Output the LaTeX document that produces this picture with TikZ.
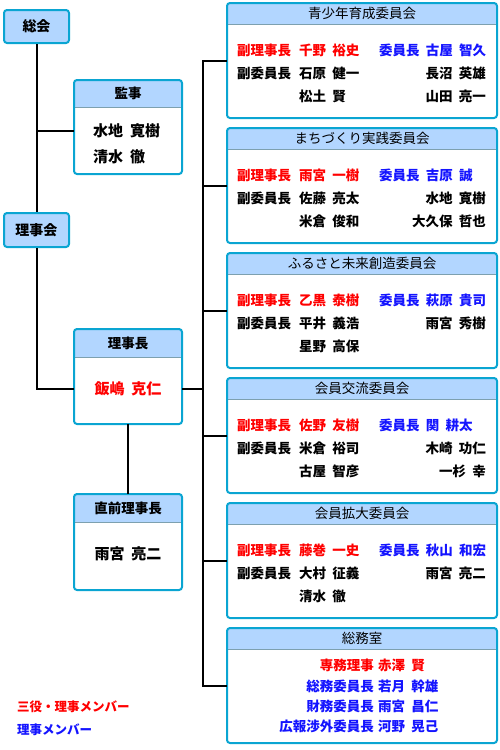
\documentclass[tikz,border=0pt]{standalone}
\usepackage{fontspec}
\setmainfont{Noto Sans CJK JP}[WordSpace=2]
\usetikzlibrary{calc}

\definecolor{waku}{RGB}{10,165,210}
\definecolor{midashi}{RGB}{178,214,255}
\definecolor{kugiri}{RGB}{125,160,175}
\definecolor{aka}{RGB}{255,0,0}
\definecolor{ao}{RGB}{20,20,255}

% 見出し付きの枠: 名前, 左, 上, 幅, 高さ, 見出しの高さ, 見出し
\newcommand{\midashibox}[7]{%
  \node[boxbase, minimum width=#4pt, minimum height=#5pt] (#1) at ({#2+#4/2},{#3+#5/2}) {};
  \fill[midashi, rounded corners=2pt] (#1.north west) rectangle ($(#1.north east)+(0,#6)$);
  \draw[kugiri] ($(#1.north west)+(1,#6)$) -- ($(#1.north east)+(-1,#6)$);
  \draw[boxline] (#1.north west) rectangle (#1.south east);
  \node[midashitext] (#1-t) at ($(#1.north)+(0,#6/2)$) {#7};
}

% 委員会: 番号, 上, 見出し, 副理事長, 副委員長, 副委員長(2), 委員長, 委員, 委員
\newcommand{\iinkai}[9]{%
  \midashibox{p#1}{227}{#2}{270}{115}{21}{#3}
  \node[meibo, aka, anchor=west] (p#1-l1) at ($(p#1.north west)+(10,47)$) {副理事長};
  \node[meibo, aka, anchor=west] (p#1-n1) at ($(p#1.north west)+(72,47)$) {#4};
  \node[meibo, anchor=west] (p#1-l2) at ($(p#1.north west)+(10,70)$) {副委員長};
  \node[meibo, anchor=west] (p#1-n2) at ($(p#1.north west)+(72,70)$) {#5};
  \node[meibo, anchor=west] (p#1-n3) at ($(p#1.north west)+(72,93)$) {#6};
  \node[meibo, ao, anchor=west] (p#1-r1) at ($(p#1.north west)+(152,47)$) {委員長 #7};
  \node[meibo, anchor=east] (p#1-r2) at ($(p#1.north west)+(259,70)$) {#8};
  \node[meibo, anchor=east] (p#1-r3) at ($(p#1.north west)+(259,93)$) {#9};
}

\begin{document}
\begin{tikzpicture}[
        x=1pt, y=-1pt, % 1ピクセル = 1pt
        link/.style={line width=2pt}, % 接続線
        boxline/.style={draw=waku, line width=2pt, rounded corners=3pt}, % 枠線
        boxbase/.style={fill=white, inner sep=0pt, outer sep=0pt}, % 枠の下地
        kaibox/.style={draw=waku, line width=2pt, fill=midashi, rounded corners=3pt,
            minimum width=65pt, minimum height=33pt, inner sep=0pt,
            font=\fontsize{14}{16}\selectfont\bfseries}, % 総会・理事会
        midashitext/.style={inner sep=0pt, font=\fontsize{13.5}{16}\selectfont}, % 見出し文字
        meibo/.style={inner sep=0pt, font=\fontsize{13.5}{16}\selectfont\bfseries}, % 名簿
        meibo14/.style={inner sep=0pt, font=\fontsize{15}{17}\selectfont\bfseries}, % 左側の名簿
        hanrei/.style={inner sep=0pt, font=\fontsize{12.5}{15}\selectfont\bfseries} % 凡例
    ]
        \useasboundingbox (0,0) rectangle (500,750);

        % --- 左側 ---
        \node[kaibox] (soukai) at (36.5,26.5) {総会};
        \node[kaibox, minimum height=34pt] (rijikai) at (36.5,230) {理事会};

        \midashibox{kanji}{74}{80}{108}{94}{27}{\bfseries 監事}
        \node[meibo14, anchor=west] (kanji-n1) at (93,131) {水地 寛樹};
        \node[meibo14, anchor=west] (kanji-n2) at (93,157) {清水 徹};

        \midashibox{rijicho}{74}{329}{108}{95}{28}{\bfseries 理事長}
        \node[meibo14, aka] (rijicho-n) at (128,389) {飯嶋 克仁};

        \midashibox{zenrijicho}{74}{494}{108}{96}{28}{\bfseries 直前理事長}
        \node[meibo14] (zenrijicho-n) at (128,554) {雨宮 亮二};

        % --- 委員会 ---
        \iinkai{1}{3}{青少年育成委員会}{千野 裕史}{石原 健一}{松土 賢}{古屋 智久}{長沼 英雄}{山田 亮一}
        \iinkai{2}{128}{まちづくり実践委員会}{雨宮 一樹}{佐藤 亮太}{米倉 俊和}{吉原 誠}{水地 寛樹}{大久保 哲也}
        \iinkai{3}{253}{ふるさと未来創造委員会}{乙黒 泰樹}{平井 義浩}{星野 高保}{萩原 貴司}{雨宮 秀樹}{}
        \iinkai{4}{378}{会員交流委員会}{佐野 友樹}{米倉 裕司}{古屋 智彦}{関 耕太}{木崎 功仁}{一杉 幸}
        \iinkai{5}{503}{会員拡大委員会}{藤巻 一史}{大村 征義}{清水 徹}{秋山 和宏}{雨宮 亮二}{}

        % --- 総務室 ---
        \midashibox{p6}{227}{628}{270}{115}{21}{総務室}
        \foreach \iro/\yaku/\na/\dy [count=\i] in {aka/専務理事/赤澤 賢/37, ao/総務委員長/若月 幹雄/58,
                ao/財務委員長/雨宮 昌仁/78, ao/広報渉外委員長/河野 晃己/98} {
            \node[meibo, \iro, anchor=east] (p6-y\i) at ($(p6.north west)+(147,\dy)$) {\yaku};
            \node[meibo, \iro, anchor=west] (p6-n\i) at ($(p6.north west)+(151,\dy)$) {\na};
        }

        % --- 凡例 ---
        \node[hanrei, aka, anchor=west] (hanrei1) at (17,707) {三役・理事メンバー};
        \node[hanrei, ao, anchor=west] (hanrei2) at (17,730) {理事メンバー};

        % --- 接続線 ---
        \coordinate (bus) at (203,0);
        \draw[link] (soukai.south) -- (rijikai.north);
        \draw[link] (rijikai.south) |- (rijicho.west |- rijicho-n);
        \draw[link] (kanji.west |- kanji-n1) -- (soukai.south |- kanji-n1);
        \draw[link] (rijicho.south) -- (zenrijicho.north);
        \draw[link] (rijicho.east |- rijicho-n) -- (rijicho-n -| bus);
        \draw[link] (p1.west) -- (p1.west -| bus) -- (p6.west -| bus) -- (p6.west);
        \foreach \i in {2,...,5}
            \draw[link] (p\i.west) -- (p\i.west -| bus);
\end{tikzpicture}
\end{document}
